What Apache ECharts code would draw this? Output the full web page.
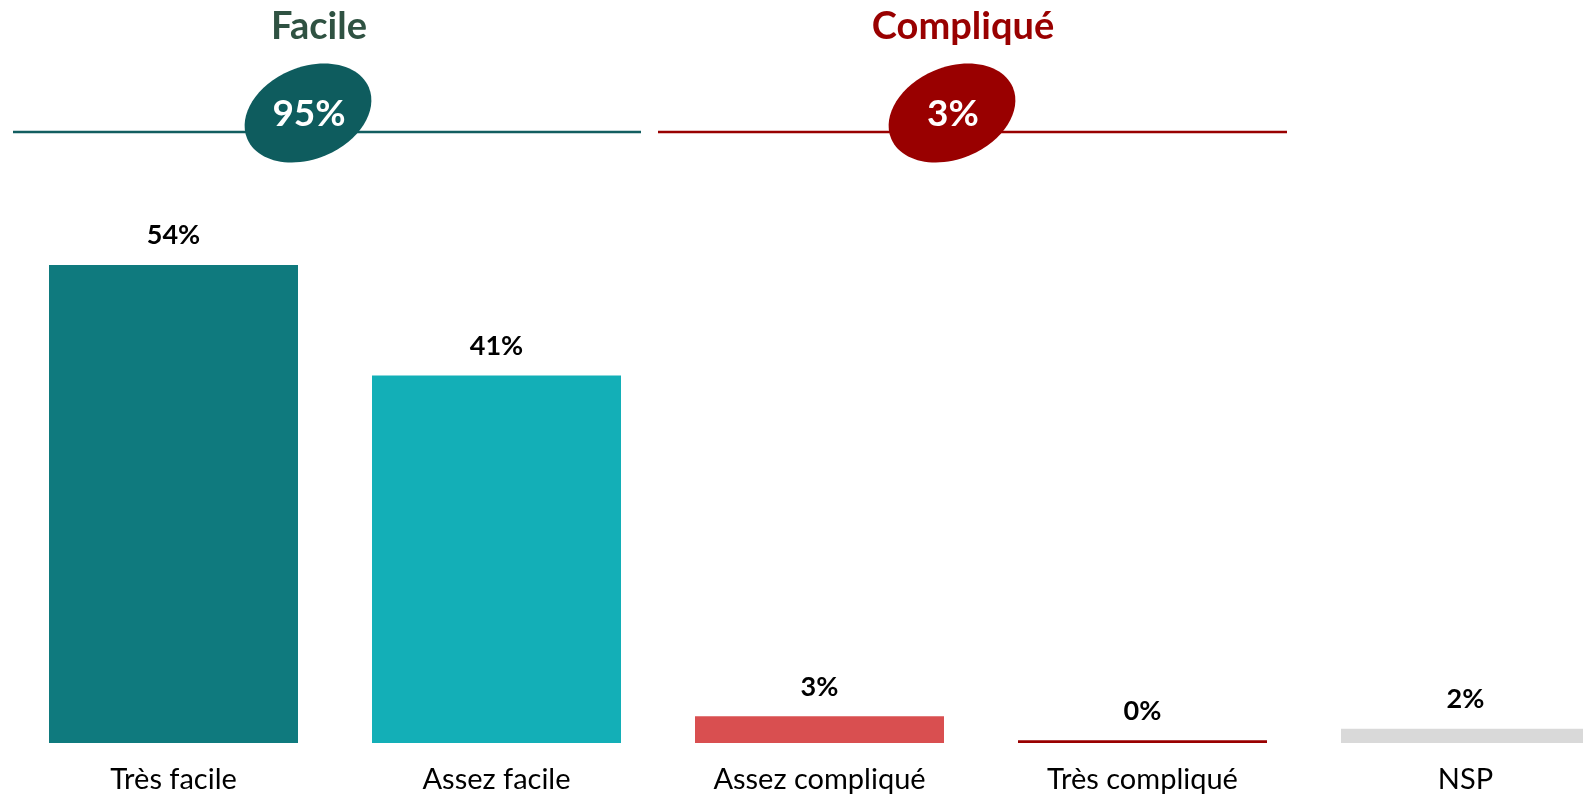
<!DOCTYPE html>
<html>
<head>
<meta charset="utf-8">
<script src="https://cdn.jsdelivr.net/npm/echarts@6/dist/echarts.min.js"></script>
<style>
html,body{margin:0;padding:0;background:#fff;}
#chart{width:1583px;height:795px;}
</style>
</head>
<body>
<div id="chart"></div>
<script>
const categories = ['Très facile', 'Assez facile', 'Assez compliqué', 'Très compliqué', 'NSP'];
const values = [53.7, 41.3, 3.0, 0.3, 1.6];
const barColors = ['#0F7A7E', '#13AFB7', '#D94F50', '#990000', '#D9D9D9'];
const groupTitles = ['Facile', 'Compliqué'];
const groupTotals = [95, 3];

const FONT = 'Lato, "Open Sans", sans-serif';
const teal = '#0E5C5E';
const red = '#990000';

const chart = echarts.init(document.getElementById('chart'));

function header(cx, lineX1, lineX2, color, ellColor, title, titleColor, total) {
  return [
    { type: 'line', shape: { x1: lineX1, y1: 132, x2: lineX2, y2: 132 }, style: { stroke: color, lineWidth: 2.5 }, z: 1 },
    { type: 'ellipse', x: cx, y: 113, rotation: 0.4, shape: { cx: 0, cy: 0, rx: 66, ry: 46 }, style: { fill: ellColor }, z: 2 },
    { type: 'text', x: cx + 1, y: 114, style: { text: total + '%', fill: '#fff', font: 'bold 37px ' + FONT, textAlign: 'center', textVerticalAlign: 'middle' }, z: 3 },
    { type: 'text', x: cx + 11, y: 27, style: { text: title, fill: titleColor, font: 'bold 38px ' + FONT, textAlign: 'center', textVerticalAlign: 'middle' }, z: 3 }
  ];
}

const option = {
  backgroundColor: '#fff',
  animation: false,
  grid: { left: 12, right: -44, top: 209, bottom: 52, containLabel: false, outerBoundsMode: 'none' },
  xAxis: {
    type: 'category',
    data: categories,
    axisLine: { show: false },
    axisTick: { show: false },
    axisLabel: { color: '#000', fontFamily: FONT, fontSize: 29, margin: 22 }
  },
  yAxis: { type: 'value', min: 0, max: 60, show: false, splitLine: { show: false } },
  series: [{
    type: 'bar',
    barWidth: 249,
    data: values.map((v, i) => ({ value: v, itemStyle: { color: barColors[i] } })),
    label: {
      show: true,
      position: 'top',
      distance: 16,
      color: '#000',
      fontFamily: FONT,
      fontWeight: 'bold',
      fontSize: 27,
      formatter: p => Math.round(p.value) + '%'
    }
  }],
  graphic: [
    ...header(308, 13, 641, '#125E60', teal, groupTitles[0], '#2F5242', groupTotals[0]),
    ...header(952, 658, 1287, red, red, groupTitles[1], red, groupTotals[1])
  ]
};
chart.setOption(option);
</script>
</body>
</html>
